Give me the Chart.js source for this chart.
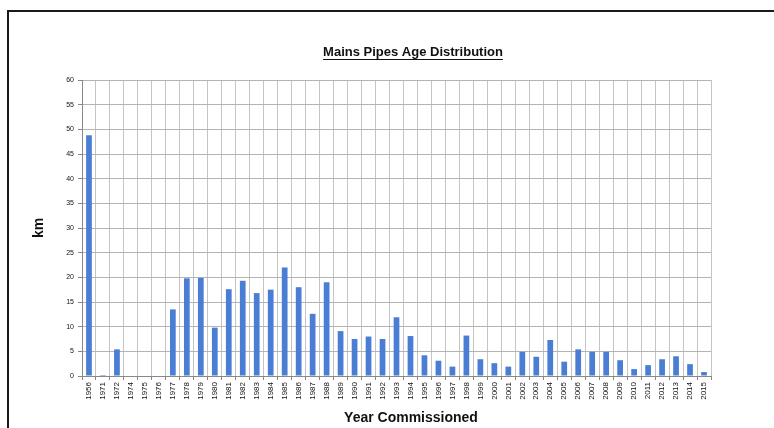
<!DOCTYPE html>
<html>
<head>
<meta charset="utf-8">
<script src="https://cdn.jsdelivr.net/npm/chart.js@4/dist/chart.umd.min.js"></script>
<style>
  html, body { margin: 0; padding: 0; background: #fff; }
  #wrap { position: relative; width: 774px; height: 428px; overflow: hidden; }
  #frame { position: absolute; left: 7px; top: 10px; width: 900px; height: 600px;
           border: 2px solid #1a1a1a; box-sizing: border-box; }
  canvas { position: absolute; left: 0; top: 0; }
</style>
</head>
<body>
<div id="wrap">
  <div id="frame"></div>
  <canvas id="c" width="774" height="428"></canvas>
</div>
<script>
// Year each batch of mains was commissioned
const years = ['1956','1971','1972','1974','1975','1976','1977','1978','1979','1980',
  '1981','1982','1983','1984','1985','1986','1987','1988','1989','1990',
  '1991','1992','1993','1994','1995','1996','1997','1998','1999','2000',
  '2001','2002','2003','2004','2005','2006','2007','2008','2009','2010',
  '2011','2012','2013','2014','2015'];

// Length of mains laid (km)
const lengthKm = [48.8, 0.2, 5.4, 0, 0, 0.1, 13.5, 19.8, 19.9, 9.8,
  17.6, 19.3, 16.8, 17.5, 22.0, 18.0, 12.6, 19.0, 9.1, 7.5,
  8.0, 7.5, 11.9, 8.1, 4.2, 3.1, 1.9, 8.2, 3.4, 2.6,
  1.9, 4.9, 3.9, 7.3, 2.9, 5.4, 4.9, 4.9, 3.2, 1.4,
  2.2, 3.4, 4.0, 2.4, 0.8];

const chartTitle = 'Mains Pipes Age Distribution';
const xTitle = 'Year Commissioned';
const yTitle = 'km';

const FONT = "'Liberation Sans', Arial, sans-serif";

// Underlined chart title and the category axis title
const headings = {
  id: 'headings',
  afterDraw(chart) {
    const ctx = chart.ctx;
    ctx.save();
    ctx.fillStyle = '#111';
    ctx.textAlign = 'center';
    ctx.textBaseline = 'middle';
    ctx.font = 'bold 13px ' + FONT;
    const tx = 413, ty = 52;
    ctx.fillText(chartTitle, tx, ty);
    const w = ctx.measureText(chartTitle).width;
    ctx.strokeStyle = '#111';
    ctx.lineWidth = 1;
    ctx.beginPath();
    ctx.moveTo(tx - w / 2, ty + 7.5);
    ctx.lineTo(tx + w / 2, ty + 7.5);
    ctx.stroke();
    ctx.font = 'bold 14px ' + FONT;
    ctx.fillText(xTitle, 411, 418);
    ctx.restore();
  }
};

new Chart(document.getElementById('c'), {
  type: 'bar',
  data: {
    labels: years,
    datasets: [{
      data: lengthKm,
      backgroundColor: '#4a7ed4',
      borderWidth: 0,
      barPercentage: 0.41,
      categoryPercentage: 1.0
    }]
  },
  options: {
    responsive: false,
    animation: false,
    devicePixelRatio: 1,
    layout: { padding: { left: 0, top: 80, right: 63, bottom: 0 } },
    plugins: {
      legend: { display: false },
      tooltip: { enabled: false }
    },
    scales: {
      x: {
        grid: { display: true, offset: true, color: '#c4c4c4', tickLength: 4, tickColor: '#888' },
        border: { color: '#888' },
        ticks: {
          autoSkip: false, minRotation: 90, maxRotation: 90, padding: 2,
          color: '#111', font: { family: FONT, size: 8 }
        },
        afterFit(scale) { scale.height = 52; }
      },
      y: {
        min: 0, max: 60,
        grid: { color: '#b4b4b4', tickLength: 4, tickColor: '#888' },
        border: { color: '#888' },
        ticks: { stepSize: 5, padding: 4, color: '#111', font: { family: FONT, size: 7 } },
        title: {
          display: true, text: yTitle, color: '#111',
          font: { family: FONT, size: 14, weight: 'bold' },
          padding: { top: 31, bottom: 0 }
        },
        afterFit(scale) { scale.width = 82; }
      }
    }
  },
  plugins: [headings]
});
</script>
</body>
</html>
